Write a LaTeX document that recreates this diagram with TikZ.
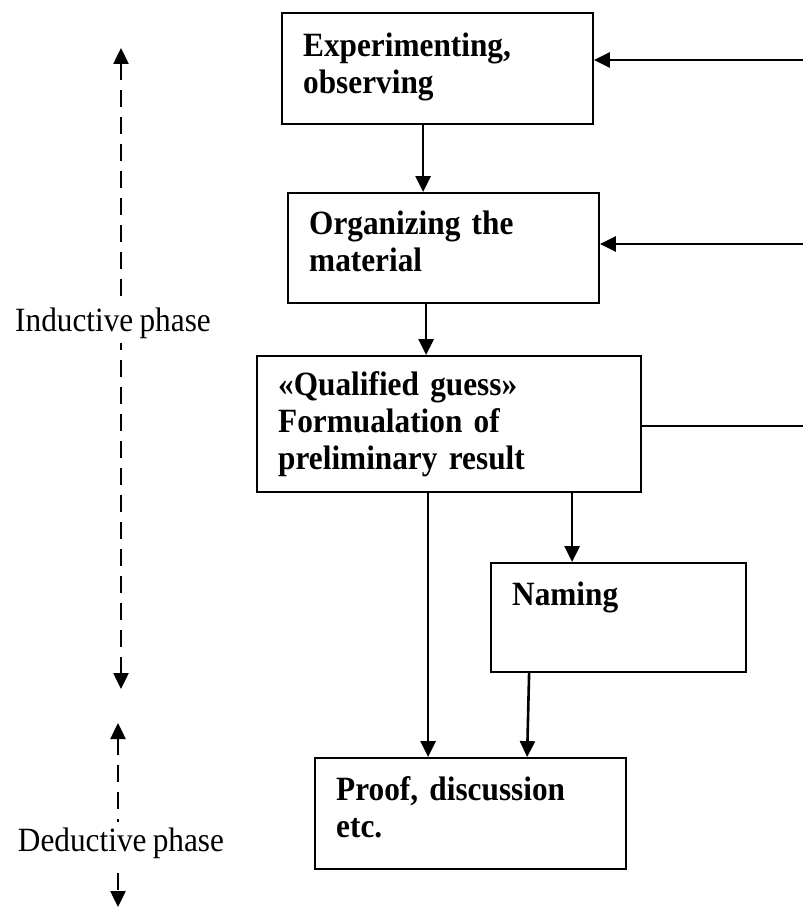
\documentclass[tikz,border=0pt]{standalone}
\usepackage{fontspec}
\setmainfont{Liberation Serif}[FakeStretch=0.92,WordSpace=0.8]
\usetikzlibrary{arrows.meta,calc}
\begin{document}
\begin{tikzpicture}[x=1pt,y=-1pt,
  box/.style={draw, line width=1.8pt, rectangle, inner sep=0pt},
  lbl/.style={font=\bfseries\fontsize{34}{37}\selectfont, align=left, inner sep=0pt, anchor=base west, text width=320pt},
  phase/.style={font=\fontsize{34}{37}\selectfont, fill=white, inner xsep=2pt, inner ysep=5pt, anchor=base},
  arr/.style={line width=2.6pt, -{Triangle[length=16pt,width=15pt]}},
  plain/.style={line width=1.8pt},
  dasharr/.style={line width=2.5pt, dash pattern=on 17pt off 10pt, {Triangle[length=16pt,width=15pt]}-{Triangle[length=16pt,width=15pt]}}]
\useasboundingbox (0,0) rectangle (803,909);
% boxes
\node[box, minimum width=311pt, minimum height=111pt] (b1) at (437.5,68.5) {};
\node[box, minimum width=311pt, minimum height=110pt] (b2) at (443.5,248) {};
\node[box, minimum width=384pt, minimum height=136pt] (b3) at (449,424) {};
\node[box, minimum width=255pt, minimum height=109pt] (b4) at (618.5,617.5) {};
\node[box, minimum width=311pt, minimum height=111pt] (b5) at (470.5,813.5) {};
% texts
\node[lbl] (t1) at (303,57) {Experimenting,\\observing};
\node[lbl] (t2) at (309,234) {Organizing the\\material};
\node[lbl] (t3) at (278,395) {«Qualified guess»\\Formualation of\\preliminary result};
\node[lbl] (t4) at (512,605) {Naming};
\node[lbl] (t5) at (336,800) {Proof, discussion\\etc.};
% right-side feedback lines
\coordinate (r1) at (803,60);
\coordinate (r2) at (803,244);
\coordinate (r3) at (803,426);
\draw[arr] (r1) -- (r1 -| b1.east);
\draw[arr] (r2) -- (r2 -| b2.east);
\draw[plain] (r3 -| b3.east) -- (r3);
% vertical connectors
\draw[arr] ($(b1.south west)+(142,0)$) -- ($(b2.north west)+(136,0)$);
\draw[arr] ($(b2.south west)+(139,0)$) -- ($(b3.north west)+(170,0)$);
\draw[arr] ($(b3.south west)+(172,0)$) -- ($(b5.north west)+(114,0)$);
\draw[arr] ($(b3.south west)+(316,0)$) -- ($(b4.north west)+(82,0)$);
\draw[arr] ($(b4.south west)+(39,0)$) -- ($(b5.north west)+(213,0)$);
% phases
\coordinate (i1) at (121,48);
\coordinate (i2) at (121,689);
\coordinate (d1) at (118,723);
\coordinate (d2) at (118,907);
\draw[dasharr] (i1) -- (i2);
\draw[dasharr] (d1) -- (d2);
\node[phase] (ind) at (113,331) {Inductive phase};
\node[phase] (ded) at (121,851) {Deductive phase};
\end{tikzpicture}
\end{document}
